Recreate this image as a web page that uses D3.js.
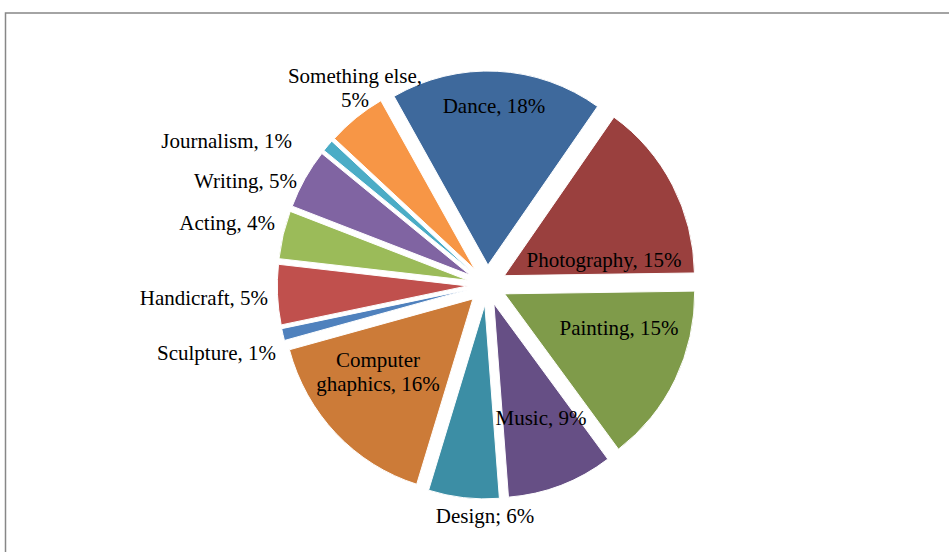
<!DOCTYPE html>
<html>
<head>
<meta charset="utf-8">
<script src="https://cdn.jsdelivr.net/npm/d3@7"></script>
<style>
  html, body { margin: 0; padding: 0; background: #ffffff; }
  svg { display: block; }
</style>
</head>
<body>
<svg id="chart" width="949" height="552"></svg>
<script>
// ---- data ----
const categories = ["Dance", "Photography", "Painting", "Music", "Design", "Computer graphics",
                    "Sculpture", "Handicraft", "Acting", "Writing", "Journalism", "Something else"];
const values = [18, 15, 15, 9, 6, 16, 1, 5, 4, 5, 1, 5];
const labelTexts = [
  ["Dance, 18%"], ["Photography, 15%"], ["Painting, 15%"], ["Music, 9%"], ["Design; 6%"],
  ["Computer", "ghaphics, 16%"], ["Sculpture, 1%"], ["Handicraft, 5%"], ["Acting, 4%"],
  ["Writing, 5%"], ["Journalism, 1%"], ["Something else,", "5%"]
];
const colors = ["#3E699C", "#9A403E", "#7F9B4A", "#664F85", "#3C8EA5", "#CC7B38",
                "#4F81BD", "#C0504D", "#9BBB59", "#8064A2", "#4BACC6", "#F79646"];

// ---- layout ----
const W = 949, H = 552;
const cx = 487, cy = 285;
const R = 194, explode = 20;
const startDeg = -29.6;
const fontSize = 21, lineH = 24;
// label anchor offsets relative to pie centre (baseline of first line)
const labelLayout = [
  {dx: 7, dy: -172, anchor: "middle"},
  {dx: 117, dy: -18, anchor: "middle"},
  {dx: 132, dy: 50, anchor: "middle"},
  {dx: 54, dy: 140, anchor: "middle"},
  {dx: -2, dy: 238, anchor: "middle"},
  {dx: -109, dy: 82, anchor: "middle"},
  {dx: -211, dy: 75, anchor: "end"},
  {dx: -219, dy: 20, anchor: "end"},
  {dx: -212, dy: -55, anchor: "end"},
  {dx: -190, dy: -97, anchor: "end"},
  {dx: -195, dy: -137, anchor: "end"},
  {dx: -132, dy: -202, anchor: "middle"}
];

const svg = d3.select("#chart");

// frame
svg.append("rect")
  .attr("x", 5.5).attr("y", 13)
  .attr("width", W + 20).attr("height", H + 20)
  .attr("fill", "none").attr("stroke", "#878787").attr("stroke-width", 1.5);

const data = categories.map((c, i) => ({cat: c, value: values[i], color: colors[i], label: labelTexts[i], i}));

const pie = d3.pie()
  .value(d => d.value)
  .sort(null)
  .startAngle(startDeg * Math.PI / 180)
  .endAngle((startDeg + 360) * Math.PI / 180);

const arc = d3.arc().innerRadius(0).outerRadius(R);

const g = svg.append("g").attr("transform", `translate(${cx},${cy}) scale(0.98,1)`);

const arcs = pie(data);
g.selectAll("path.slice")
  .data(arcs)
  .join("path")
  .attr("class", "slice")
  .attr("d", arc)
  .attr("fill", d => d.data.color)
  .attr("stroke", "#ffffff")
  .attr("stroke-width", 1)
  .attr("transform", d => {
    const m = (d.startAngle + d.endAngle) / 2;
    return `translate(${Math.sin(m) * explode},${-Math.cos(m) * explode})`;
  });

// labels
const lg = svg.append("g").attr("transform", `translate(${cx},${cy})`);
arcs.forEach((d, i) => {
  const L = labelLayout[i];
  const t = lg.append("text")
    .attr("x", L.dx).attr("y", L.dy)
    .attr("text-anchor", L.anchor)
    .attr("font-family", "'Liberation Serif', 'Times New Roman', serif")
    .attr("font-size", fontSize)
    .attr("fill", "#000000");
  d.data.label.forEach((line, k) => {
    t.append("tspan").attr("x", L.dx).attr("dy", k === 0 ? 0 : lineH).text(line);
  });
});
</script>
</body>
</html>
